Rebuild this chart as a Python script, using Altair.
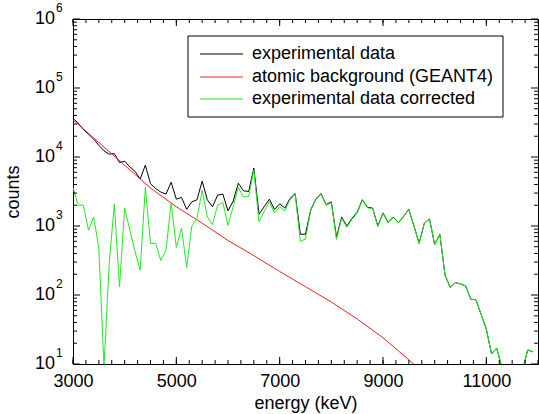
import altair as alt
import pandas as pd

# ---------------- data ----------------
energy = [3000, 3100, 3200, 3300, 3400, 3500, 3600, 3700, 3800, 3900,
          4000, 4100, 4200, 4300, 4400, 4500, 4600, 4700, 4800, 4900,
          5000, 5100, 5200, 5300, 5400, 5500, 5600, 5700, 5800, 5900,
          6000, 6100, 6200, 6300, 6400, 6500, 6600, 6700, 6800, 6900,
          7000, 7100, 7200, 7300, 7400, 7500, 7600, 7700, 7800, 7900,
          8000, 8100, 8200, 8300, 8400, 8500, 8600, 8700, 8800, 8900,
          9000, 9100, 9200, 9300, 9400, 9500, 9600, 9700, 9800, 9900,
          10000, 10100, 10200, 10300, 10400, 10500, 10600, 10700, 10800, 10900,
          11000, 11100, 11200, 11300, 11400, 11500, 11600, 11700, 11800, 11900]

exp_counts = [36300, 30900, 25100, 21400, 18200, 14800, 12300, 11000, 11200, 8300,
              8700, 7200, 6200, 4800, 7600, 4100, 3500, 3100, 2900, 4300,
              2450, 2600, 1740, 2240, 2400, 4470, 2400, 1900, 2800, 2900,
              1660, 2290, 4170, 3240, 3160, 6900, 1480, 1900, 2450, 1740,
              2090, 1820, 2510, 2950, 760, 760, 1700, 2450, 2950, 2040,
              2240, 690, 1350, 1000, 1290, 1580, 2400, 1860, 1820, 1000,
              1550, 1120, 1350, 1120, 1380, 1740, 1000, 560, 1100, 1260,
              540, 760, 195, 129, 151, 145, 135, 87, 85, 52,
              32, 14, 17, 9, 6, 6, 7, 8, 16, 15]

corr_counts = [3630, 2000, 2000, 870, 1350, 480, 9, 280, 2090, 132,
               1820, 870, 427, 229, 3630, 560, 560, 316, 447, 2190,
               490, 933, 251, 1000, 1290, 3310, 1350, 1050, 2000, 2190,
               1020, 1900, 3630, 2630, 2690, 6460, 1150, 1620, 2240, 1550,
               1900, 1660, 2400, 2880, 600, 645, 1660, 2400, 2880, 2000,
               2170, 640, 1300, 960, 1250, 1540, 2360, 1830, 1790, 975,
               1530, 1100, 1335, 1105, 1370, 1730, 995, 555, 1100, 1260,
               540, 760, 195, 129, 151, 145, 135, 87, 85, 52,
               32, 14, 17, 9, 5, 5, 6, 8, 16, 15]

bg_energy = [3000, 3500, 4000, 4500, 5000, 5500, 6000, 6500, 7000, 7500,
             8000, 8500, 9000, 9500, 9600]
bg_counts = [34700, 16200, 7590, 3550, 1900, 1100, 617, 372, 219, 132,
             79, 45, 24, 11.5, 9.8]

series_names = ["experimental data", "atomic background (GEANT4)",
                "experimental data corrected"]
series_colors = ["#000000", "#e82222", "#22e822"]

x_major = [3000, 5000, 7000, 9000, 11000]
x_minor = [3000 + 250 * i for i in range(37)]
y_major = [10, 100, 1000, 10000, 100000, 1000000]
y_minor = [m * 10 ** k for k in range(1, 6) for m in range(2, 10)]

# ---------------- layout ----------------
W, H = 465, 345
FONT = "Liberation Sans"

xscale = alt.Scale(domain=[3000, 12000], nice=False, zero=False)
yscale = alt.Scale(type="log", domain=[10, 1000000], nice=False)

xaxis = alt.Axis(values=x_major, format="d", labelFont=FONT, labelFontSize=18,
                 labelColor="black", labelPadding=8, labelFlush=False,
                 labelOverlap=False, ticks=False, domain=False,
                 grid=False, title="energy (keV)", titleFont=FONT,
                 titleFontSize=18, titleFontWeight="normal", titleColor="black",
                 titlePadding=4)
yaxis = alt.Axis(labels=False, ticks=False, domain=False, grid=False,
                 title="counts", titleFont=FONT, titleFontSize=18,
                 titleFontWeight="normal", titleColor="black", titlePadding=51)

exp_df = pd.DataFrame({"energy": energy, "counts": exp_counts})
corr_df = pd.DataFrame({"energy": energy, "counts": corr_counts})
bg_df = pd.DataFrame({"energy": bg_energy, "counts": bg_counts})


def line(df, color, with_axes=False):
    if with_axes:
        x = alt.X("energy:Q", scale=xscale, axis=xaxis)
        y = alt.Y("counts:Q", scale=yscale, axis=yaxis)
    else:
        x = alt.X("energy:Q", scale=xscale)
        y = alt.Y("counts:Q", scale=yscale)
    return alt.Chart(df).mark_line(clip=True, color=color, strokeWidth=1).encode(x=x, y=y)


l_exp = line(exp_df, series_colors[0], with_axes=True)
l_bg = line(bg_df, series_colors[1])
l_corr = line(corr_df, series_colors[2])

# inward ticks on all four sides
xmaj_df = pd.DataFrame({"energy": x_major})
xmin_df = pd.DataFrame({"energy": x_minor})
ymaj_df = pd.DataFrame({"counts": y_major})
ymin_df = pd.DataFrame({"counts": y_minor})


def xticks(df, length):
    b = alt.Chart(df).mark_rule(color="black", strokeWidth=1).encode(
        x=alt.X("energy:Q", scale=xscale), y=alt.value(H), y2=alt.value(H - length))
    t = alt.Chart(df).mark_rule(color="black", strokeWidth=1).encode(
        x=alt.X("energy:Q", scale=xscale), y=alt.value(0), y2=alt.value(length))
    return [b, t]


def yticks(df, length):
    l = alt.Chart(df).mark_rule(color="black", strokeWidth=1).encode(
        y=alt.Y("counts:Q", scale=yscale), x=alt.value(0), x2=alt.value(length))
    r = alt.Chart(df).mark_rule(color="black", strokeWidth=1).encode(
        y=alt.Y("counts:Q", scale=yscale), x=alt.value(W), x2=alt.value(W - length))
    return [l, r]


ticks = xticks(xmaj_df, 7) + xticks(xmin_df, 4) + yticks(ymaj_df, 7) + yticks(ymin_df, 4)

# y tick labels as 10^n
ylab_df = pd.DataFrame({"counts": y_major})
ylab_base = alt.Chart(ylab_df).mark_text(
    align="right", baseline="middle", font=FONT, fontSize=18, color="black"
).encode(y=alt.Y("counts:Q", scale=yscale), x=alt.value(-18), text=alt.value("10"))
ylab_exp = alt.Chart(ylab_df).transform_calculate(
    e="format(round(log(datum.counts) / LN10), 'd')"
).mark_text(
    align="left", baseline="middle", font=FONT, fontSize=12, color="black", dy=-11
).encode(y=alt.Y("counts:Q", scale=yscale), x=alt.value(-17), text="e:N")

# legend (drawn)
one = pd.DataFrame({"a": [0]})
leg_box = alt.Chart(one).mark_rect(fill="white", stroke="black", strokeWidth=1).encode(
    x=alt.value(115), x2=alt.value(430), y=alt.value(17), y2=alt.value(98))
leg_layers = [leg_box]
row_y = [35, 58, 80]
for name, col, yy in zip(series_names, series_colors, row_y):
    leg_layers.append(alt.Chart(one).mark_rule(color=col, strokeWidth=1).encode(
        x=alt.value(127), x2=alt.value(170), y=alt.value(yy)))
    leg_layers.append(alt.Chart(one).mark_text(
        align="left", baseline="middle", font=FONT, fontSize=18, color="black"
    ).encode(x=alt.value(179), y=alt.value(yy), text=alt.value(name)))

chart = alt.layer(l_exp, l_bg, l_corr, *ticks, ylab_base, ylab_exp, *leg_layers).properties(
    width=W, height=H,
    autosize=alt.AutoSizeParams(type="none"),
    padding={"left": 73, "top": 19, "right": 1, "bottom": 50},
    background="white",
).configure_view(stroke="black", strokeWidth=1)

chart.save("out.html", embed_options={"renderer": "svg", "actions": False})
